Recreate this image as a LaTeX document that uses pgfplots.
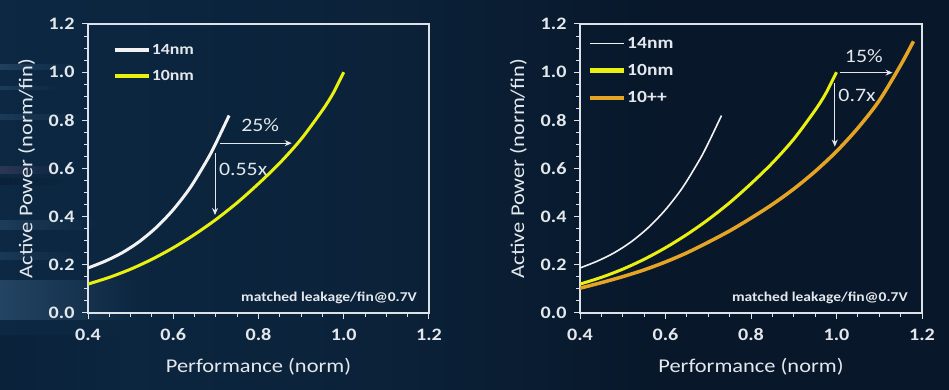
\documentclass[border=0pt]{standalone}
\usepackage{pgfplots}
\pgfplotsset{compat=1.18}
\usepackage{pgfplotstable}
\usepackage{fontspec}
\setmainfont{Carlito}[FakeStretch=1.15]
\usetikzlibrary{arrows.meta,fadings}
\definecolor{txt}{HTML}{E4E8EC}
\definecolor{axc}{HTML}{DCE2E8}
\definecolor{yel}{HTML}{EAF010}
\definecolor{org}{HTML}{E6A425}
\definecolor{wht}{HTML}{F2F2F2}
\definecolor{bg0}{HTML}{2C5E84}
\definecolor{bg1}{HTML}{16406A}
\definecolor{bg2}{HTML}{0D2C4A}
\definecolor{bg3}{HTML}{0B2239}
\definecolor{bg4}{HTML}{08172A}
\definecolor{st1}{HTML}{6A9CC4}
\definecolor{st2}{HTML}{7A5A80}
\pgfdeclarehorizontalshading{bgshade}{100bp}{color(0bp)=(bg0); color(3bp)=(bg1); color(10bp)=(bg2); color(45bp)=(bg3); color(60bp)=(bg4); color(100bp)=(bg4)}

\pgfplotstableread{
x y
0.400 0.187
0.440 0.215
0.480 0.250
0.520 0.296
0.560 0.355
0.600 0.429
0.640 0.521
0.680 0.637
0.700 0.705
0.731 0.820
}\wht
\pgfplotstableread{
x y
0.400 0.120
0.450 0.148
0.500 0.182
0.550 0.223
0.600 0.271
0.650 0.326
0.700 0.388
0.750 0.458
0.800 0.537
0.850 0.623
0.900 0.722
0.950 0.842
0.975 0.912
1.000 1.000
}\yel
\pgfplotstableread{
x y
0.400 0.103
0.450 0.126
0.500 0.151
0.550 0.179
0.600 0.212
0.650 0.250
0.700 0.294
0.750 0.341
0.800 0.394
0.850 0.451
0.900 0.515
0.950 0.588
1.000 0.671
1.050 0.768
1.100 0.882
1.150 1.029
1.180 1.128
}\org

\tikzset{
  ann/.style={font=\fontsize{19}{22}\selectfont, text=txt},
  arr/.style={draw=txt, line width=1pt, -{Stealth[length=7pt,width=6pt]}},
  note/.style={font=\fontsize{13.5}{16}\selectfont\bfseries, text=txt, anchor=east, inner sep=0pt},
}
\pgfplotsset{
  panel/.style={
    scale only axis, height=289pt,
    xmin=0.4, xmax=1.2, ymin=0, ymax=1.2,
    xtick={0.4,0.6,0.8,1.0,1.2},
    ytick={0,0.2,0.4,0.6,0.8,1.0,1.2},
    minor tick num=3,
    tick align=outside,
    tick pos=left,
    major tick length=6pt, minor tick length=4pt,
    axis line style={draw=axc, line width=1.1pt},
    every tick/.style={draw=axc, line width=1pt},
    tick label style={font=\fontsize{17.5}{20}\selectfont\bfseries, text=txt},
    xticklabel style={yshift=-6pt, /pgf/number format/fixed, /pgf/number format/fixed zerofill, /pgf/number format/precision=1, /pgf/number format/assume math mode=true},
    yticklabel style={xshift=-4pt, /pgf/number format/fixed, /pgf/number format/fixed zerofill, /pgf/number format/precision=1, /pgf/number format/assume math mode=true},
    xlabel={Performance (norm)},
    ylabel={Active Power (norm/fin)},
    every axis x label/.style={at={(axis description cs:0.5,-0.185)}, anchor=center,
      font=\fontsize{19.5}{22}\selectfont, text=txt},
    every axis y label/.style={at={(axis description cs:-0.18,0.5)}, anchor=center, rotate=90,
      font=\fontsize{19.5}{22}\selectfont, text=txt},
    legend cell align=left,
    legend image code/.code={\draw[##1] (0pt,0pt) -- (34pt,0pt);},
    legend style={draw=none, fill=none, text=txt, inner sep=0pt,
      nodes={inner sep=1pt}, row sep=12.5pt},
  },
}

\begin{document}
\begin{tikzpicture}
\path[use as bounding box] (0,0) rectangle (949pt,390pt);
\shade[shading=bgshade] (0,0) rectangle (949pt,390pt);
% streaks at the left edge
\fill[st1, opacity=0.22, path fading=east] (0,320pt) rectangle (80pt,326pt);
\fill[st1, opacity=0.18, path fading=east] (0,300pt) rectangle (60pt,304pt);
\fill[st1, opacity=0.16, path fading=east] (0,270pt) rectangle (90pt,276pt);
\fill[st2, opacity=0.30, path fading=east] (0,216pt) rectangle (60pt,224pt);
\fill[bg4, opacity=0.40, path fading=east] (0,205pt) rectangle (70pt,212pt);
\fill[st1, opacity=0.18, path fading=east] (0,160pt) rectangle (100pt,170pt);
\fill[st1, opacity=0.15, path fading=east] (0,130pt) rectangle (80pt,138pt);
\fill[st1, opacity=0.25, path fading=east] (0,70pt) rectangle (140pt,110pt);
\fill[bg4, opacity=0.35, path fading=east] (0,0) rectangle (120pt,55pt);

% ---------------- left panel ----------------
\begin{axis}[panel, width=341pt, at={(88pt,77pt)}, anchor=south west,
  legend style={at={(axis description cs:0.072,0.935)}, anchor=north west,
    font=\fontsize{15.5}{18}\selectfont\bfseries}]
\addlegendimage{wht, line width=4pt}
\addlegendentry{14nm}
\addlegendimage{yel, line width=4pt}
\addlegendentry{10nm}
\addplot[wht, line width=3pt, smooth, forget plot] table {\wht};
\addplot[yel, line width=3pt, smooth, forget plot] table {\yel};
\draw[arr] (axis cs:0.710,0.705) -- (axis cs:0.878,0.705);
\draw[arr] (axis cs:0.698,0.663) -- (axis cs:0.698,0.407);
\node[ann] at (axis cs:0.804,0.779) {25\%};
\node[ann] at (axis cs:0.764,0.598) {0.55x};
\node[note] at (axis cs:1.172,0.062) {matched leakage/fin@0.7V};
\end{axis}

% ---------------- right panel ----------------
\begin{axis}[panel, width=342pt, at={(580pt,77pt)}, anchor=south west,
  legend style={at={(axis description cs:0.022,0.958)}, anchor=north west,
    font=\fontsize{17}{20}\selectfont\bfseries}]
\addlegendimage{wht, line width=1.5pt}
\addlegendentry{14nm}
\addlegendimage{yel, line width=4.5pt}
\addlegendentry{10nm}
\addlegendimage{org, line width=4.5pt}
\addlegendentry{10++}
\addplot[wht, line width=1.6pt, smooth, forget plot] table {\wht};
\addplot[yel, line width=3pt, smooth, forget plot] table {\yel};
\addplot[org, line width=3.5pt, smooth, forget plot] table {\org};
\draw[arr] (axis cs:1.007,0.998) -- (axis cs:1.131,0.998);
\draw[arr] (axis cs:0.996,0.954) -- (axis cs:0.996,0.691);
\node[ann] at (axis cs:1.064,1.066) {15\%};
\node[ann] at (axis cs:1.048,0.904) {0.7x};
\node[note] at (axis cs:1.167,0.062) {matched leakage/fin@0.7V};
\end{axis}
\end{tikzpicture}
\end{document}
